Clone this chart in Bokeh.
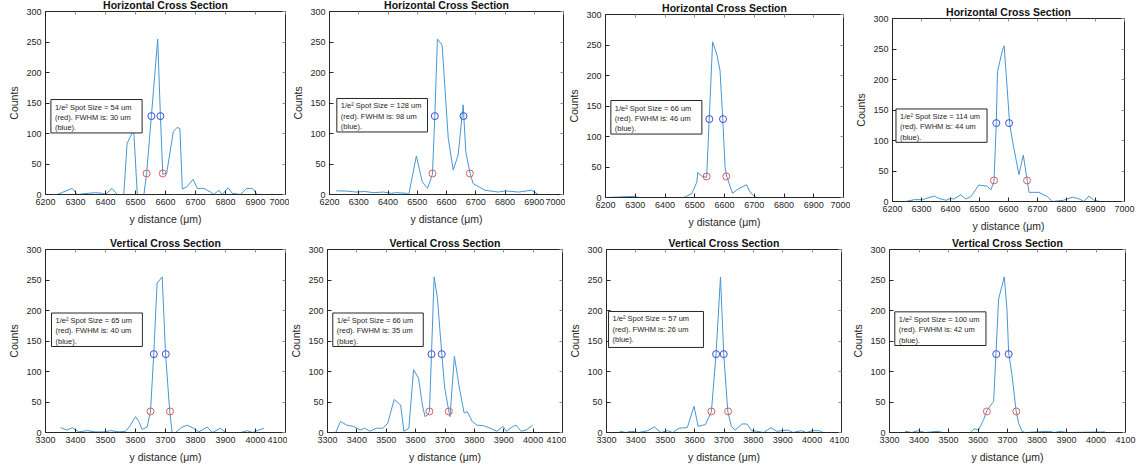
from bokeh.plotting import figure
from bokeh.models import (Range1d, FixedTicker, Label, BoxAnnotation, Spacer,
                          LinearAxis, CustomJSTickFormatter)
from bokeh.layouts import row, column
from bokeh.embed import file_html
from bokeh.resources import INLINE

# ---------------- data ----------------
h_ticks = [6200, 6300, 6400, 6500, 6600, 6700, 6800, 6900, 7000]
v_ticks = [3300, 3400, 3500, 3600, 3700, 3800, 3900, 4000, 4100]
y_ticks = [0, 50, 100, 150, 200, 250, 300]

h1_x = [6239, 6289, 6306, 6344, 6367, 6389, 6400, 6422, 6439, 6461, 6472, 6494, 6506, 6528, 6537, 6553, 6574, 6583, 6591, 6604,
        6626, 6639, 6648, 6656, 6670, 6692, 6706, 6728, 6750, 6761, 6778, 6789, 6809, 6822, 6850, 6870, 6889, 6906]
h1_y = [0, 10, 0, 2, 3, 2, 0, 10, 0, 0, 84, 106, 0, 0, 34, 129, 255, 129, 33, 35,
        103, 110, 108, 9, 12, 25, 10, 10, 4, 0, 7, 0, 11, 2, 0, 10, 10, 0]
h2_x = [6223, 6263, 6291, 6320, 6349, 6385, 6411, 6430, 6463, 6471, 6497, 6517, 6535, 6552, 6560, 6569, 6585, 6606, 6623, 6640,
        6657, 6666, 6681, 6691, 6731, 6777, 6800, 6846, 6891, 6914]
h2_y = [6, 5.5, 4, 5, 3, 4, 2, 3, 2, 0, 63, 21, 10, 33, 128, 255, 245, 92, 40, 65,
        147, 70, 34, 18, 7, 4, 6, 4, 7, 0]
h3_x = [6205, 6300, 6310, 6462, 6468, 6490, 6507, 6510, 6524, 6540, 6549, 6560, 6574, 6585, 6594, 6602, 6607, 6627, 6646, 6674,
        6685, 6697, 6708, 6905]
h3_y = [0, 2, 0, 0, 1, 6.5, 25, 41, 35, 33, 132, 255, 235, 208, 130, 49, 35, 7, 14, 21,
        10, 3, 0, 0]
h4_x = [6246, 6275, 6303, 6344, 6360, 6385, 6399, 6412, 6435, 6453, 6470, 6498, 6527, 6539, 6550, 6558, 6562, 6579, 6585, 6604,
        6613, 6636, 6651, 6665, 6671, 6705, 6734, 6751, 6790, 6820, 6840, 6860, 6877, 6895, 6915]
h4_y = [0, 3, 3, 9, 5, 2, 5, 4, 11, 4, 8, 27, 25, 19, 33, 130, 213, 248, 255, 128,
        101, 44, 76, 33, 15, 15, 8, 0, 2, 7, 5, 0, 9, 2, 0]
v1_x = [3350, 3372, 3389, 3411, 3439, 3466, 3494, 3517, 3545, 3567, 3583, 3600, 3611, 3622, 3639, 3650, 3661, 3672, 3689, 3700,
        3714, 3722, 3733, 3756, 3772, 3794, 3811, 3839, 3856, 3883, 3900, 3950, 3972, 3990, 4011, 4028]
v1_y = [8, 4, 8, 1, 3, 1, 1, 3, 1, 2, 12, 26, 18, 5, 9, 35, 130, 245, 255, 130,
        35, 0, 0, 9, 12, 7, 1, 9, 0, 7, 0, 0, 3, 0, 4, 7]
v2_x = [3328, 3344, 3366, 3389, 3411, 3427, 3444, 3466, 3488, 3505, 3527, 3549, 3560, 3577, 3593, 3610, 3623, 3632, 3641, 3647,
        3654, 3663, 3674, 3689, 3699, 3713, 3717, 3732, 3749, 3765, 3776, 3793, 3809, 3832, 3854, 3876, 3898, 3909, 3931, 3942,
        3959, 3976, 3998]
v2_y = [0, 18, 12, 10, 4, 7, 2, 7, 7, 15, 54, 45, 2, 7, 103, 89, 45, 26, 29, 34,
        129, 255, 221, 129, 73, 35, 26, 125, 73, 32, 34, 18, 12, 11, 7, 2, 10, 2, 10, 12,
        2, 4, 12]
v3_x = [3345, 3365, 3384, 3410, 3440, 3463, 3485, 3508, 3525, 3547, 3575, 3598, 3612, 3637, 3657, 3673, 3688, 3699, 3713, 3725,
        3738, 3761, 3778, 3794, 3811, 3835, 3860, 3879, 3918, 3935, 3963, 3980, 4002, 4025, 4036]
v3_y = [2, 0, 2, 0, 3, 9, 0, 3, 0, 7, 8, 43, 10, 13, 34, 129, 255, 129, 34, 10,
        4, 14, 14, 3, 2, 0, 8, 2, 4, 0, 3, 0, 3, 3, 0]
v4_x = [3353, 3375, 3398, 3420, 3466, 3480, 3574, 3587, 3602, 3619, 3630, 3653, 3661, 3670, 3689, 3698, 3704, 3715, 3729, 3738,
        3749, 3760, 3840, 3860, 3879, 3900, 4030]
v4_y = [2, 0, 3, 0, 2, 0, 0, 6, 4, 21, 36, 51, 130, 219, 255, 203, 130, 95, 36, 15,
        2, 0, 2, 0, 2, 0, 1]

red_x = [[6537, 6591], [6552, 6680], [6540, 6606], [6550, 6664],
         [3650, 3715], [3647, 3713], [3657, 3714], [3630, 3730]]
blue_x = [[6553, 6583], [6560, 6658], [6549, 6595], [6558, 6602],
          [3661, 3701], [3654, 3689], [3673, 3699], [3662, 3704]]
red_level = 34.5
blue_level = 128.5
spot_size = [54, 128, 66, 114, 65, 66, 57, 100]
fwhm = [30, 98, 46, 44, 40, 35, 26, 42]
titles = ["Horizontal Cross Section"] * 4 + ["Vertical Cross Section"] * 4
x_label = "y distance (\u03bcm)"
y_label = "Counts"

curves_x = [h1_x, h2_x, h3_x, h4_x, v1_x, v2_x, v3_x, v4_x]
curves_y = [h1_y, h2_y, h3_y, h4_y, v1_y, v2_y, v3_y, v4_y]

# ---------------- layout (pixel geometry) ----------------
# (border_left, frame_width, border_right)
hgeom = [
    (45, 240, 4), (39, 235, 2), (40, 238, 7), (42, 232, 16),
    (45, 240, 2), (38, 237, 4), (36, 239, 8), (40, 236, 15),
]
TOP1, FRAME_H, BOT1 = 16, 183, 33
TOP2, BOT2 = 15, 35
shift_down = [0, 0, 3, 7, 0, 0, 0, 0]

# text box extents in data units: (left, right, top, bottom)
box_ext = [(6218, 6522, 155.7, 100.9), (6225, 6535, 157.4, 102.5),
           (6218, 6524, 159.0, 104.0), (6212, 6526, 151.7, 97.0),
           (3320, 3623, 195.9, 141.0), (3318, 3626, 195.9, 141.0),
           (3307, 3630, 198.4, 139.4), (3318, 3627, 197.8, 142.6)]

FONT = "Liberation Sans"
DARK = "#262626"
LINE = "#4697d4"
BLUE = "#3c4fd6"
RED = "#e05c5c"


def style_axis(ax):
    ax.major_tick_in = 4
    ax.major_tick_out = 0
    ax.minor_tick_line_color = None
    ax.axis_line_color = DARK
    ax.major_tick_line_color = DARK
    ax.major_label_text_font = FONT
    ax.major_label_text_font_size = "9px"
    ax.major_label_text_color = DARK
    ax.axis_label_text_font = FONT
    ax.axis_label_text_font_size = "10.5px"
    ax.axis_label_text_font_style = "normal"
    ax.axis_label_text_color = DARK


def make_panel(i):
    bl, fw, br = hgeom[i]
    horiz = i < 4
    bt, bb = (TOP1, BOT1) if horiz else (TOP2, BOT2)
    xr = (6200, 7000) if horiz else (3300, 4100)
    xt = h_ticks if horiz else v_ticks
    p = figure(width=bl + fw + br, height=bt + FRAME_H + bb,
               min_border_left=bl, min_border_right=br,
               min_border_top=bt, min_border_bottom=bb,
               x_range=Range1d(*xr), y_range=Range1d(0, 300),
               output_backend="svg", toolbar_location=None,
               title=titles[i])
    p.title.align = "center"
    p.title.text_font = FONT
    p.title.text_font_size = "10.5px"
    p.title.text_font_style = "bold"
    p.title.text_color = "#111111"
    p.title.standoff = 1
    p.outline_line_color = DARK
    p.outline_line_width = 1
    p.background_fill_color = "white"
    p.border_fill_color = "white"
    p.xgrid.visible = False
    p.ygrid.visible = False

    p.xaxis.ticker = FixedTicker(ticks=xt)
    p.yaxis.ticker = FixedTicker(ticks=y_ticks)
    for ax in (p.xaxis, p.yaxis):
        style_axis(ax)
    p.xaxis.axis_label = x_label
    p.yaxis.axis_label = y_label
    p.xaxis.major_label_standoff = 4
    p.xaxis.axis_label_standoff = 5
    p.yaxis.major_label_standoff = 4
    p.yaxis.axis_label_standoff = 3

    # mirrored inward ticks on the top and right edges (no labels)
    blank = CustomJSTickFormatter(code="return '';")
    top_ax = LinearAxis(ticker=FixedTicker(ticks=xt), formatter=blank,
                        major_tick_in=3, major_tick_out=0, major_label_standoff=0,
                        axis_line_color=None, major_tick_line_color="#8a8a8a",
                        minor_tick_line_color=None)
    right_ax = LinearAxis(ticker=FixedTicker(ticks=y_ticks), formatter=blank,
                          major_tick_in=3, major_tick_out=0, major_label_standoff=0,
                          axis_line_color=None, major_tick_line_color="#8a8a8a",
                          minor_tick_line_color=None)
    p.add_layout(top_ax, "above")
    p.add_layout(right_ax, "right")

    p.line(curves_x[i], curves_y[i], line_color=LINE, line_width=1)
    p.scatter(red_x[i], [red_level] * 2, marker="circle", size=7,
              fill_color=None, line_color=RED, line_width=1)
    p.scatter(blue_x[i], [blue_level] * 2, marker="circle", size=7,
              fill_color=None, line_color=BLUE, line_width=1)

    l, r, t, b = box_ext[i]
    p.add_layout(BoxAnnotation(left=l, right=r, top=t, bottom=b,
                               fill_color="white", fill_alpha=1.0,
                               line_color=DARK, line_width=1, line_alpha=1.0,
                               line_dash="solid"))
    txt = ("1/e\u00b2 Spot Size = %d um\n(red). FWHM is: %d um\n(blue)."
           % (spot_size[i], fwhm[i]))
    p.add_layout(Label(x=l, y=t, x_offset=4, y_offset=-3, text=txt, text_font=FONT,
                       text_font_size="7.5px", text_line_height=1.15,
                       text_color=DARK, text_align="left", text_baseline="top"))
    if shift_down[i]:
        return column(Spacer(width=bl + fw + br, height=shift_down[i]), p, spacing=0)
    return p


panels = [make_panel(i) for i in range(8)]
layout = column(row(*panels[:4], spacing=0), row(*panels[4:], spacing=0), spacing=0,
                styles={"margin-top": "-5px", "margin-bottom": "-6px"})

open("out.html", "w").write(file_html(layout, INLINE))
